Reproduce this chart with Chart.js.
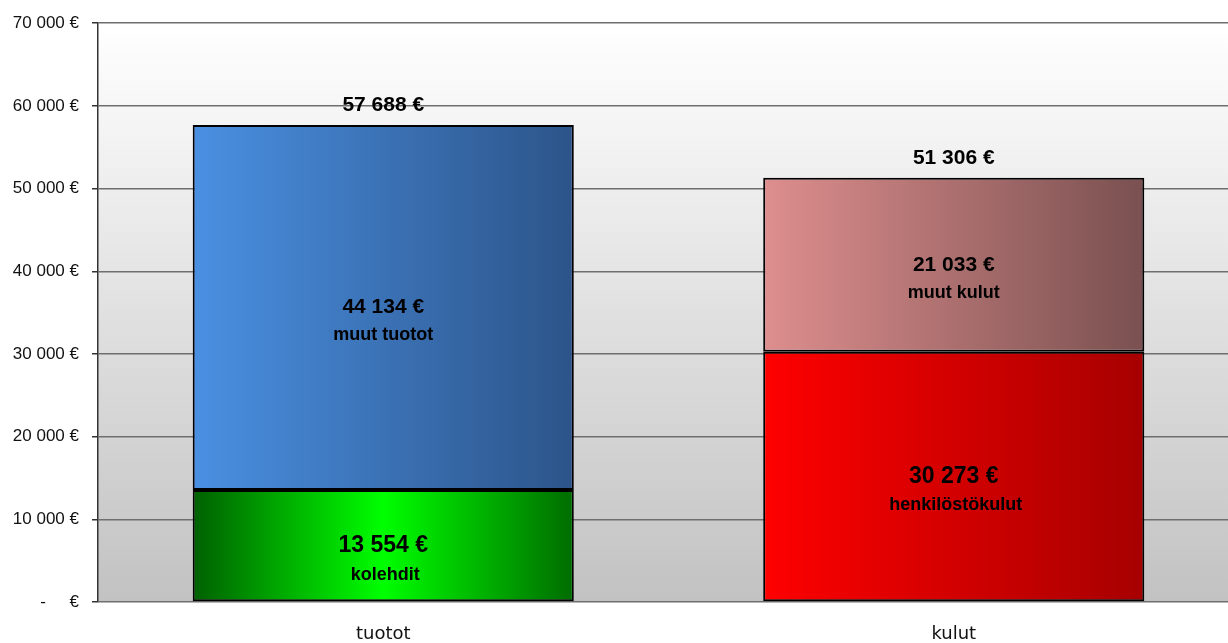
<!DOCTYPE html>
<html>
<head>
<meta charset="utf-8">
<script src="https://cdn.jsdelivr.net/npm/chart.js@4/dist/chart.umd.min.js"></script>
<style>
  html, body { margin: 0; padding: 0; background: #ffffff; overflow: hidden; }
  #wrap { position: relative; width: 1240px; height: 643px; }
</style>
</head>
<body>
<div id="wrap"><canvas id="c"></canvas></div>
<script>
// ---- data ----
const categories = ['tuotot', 'kulut'];
const lowerValues = [13554, 30273];
const upperValues = [44134, 21033];
const lowerNames = ['kolehdit', 'henkilöstökulut'];
const upperNames = ['muut tuotot', 'muut kulut'];
const yTickMax = 70000;
const yTickStep = 10000;

// ---- helpers ----
function fmt(v) {
  return Math.round(v).toString().replace(/\B(?=(\d{3})+(?!\d))/g, ' ') + ' €';
}
const BAR_PCT = 0.668;

function barGradient(ctx, stops) {
  const chart = ctx.chart;
  const area = chart.chartArea;
  if (!area) return stops[0][1];
  const xs = chart.scales.x;
  const cx = xs.getPixelForValue(ctx.dataIndex);
  const w = (area.right - area.left) / categories.length * BAR_PCT;
  const g = chart.ctx.createLinearGradient(cx - w / 2, 0, cx + w / 2, 0);
  stops.forEach(s => g.addColorStop(s[0], s[1]));
  return g;
}
const lowerStops = [
  [[0, '#006000'], [0.5, '#00ff00'], [1, '#006c00']],
  [[0, '#ff0000'], [1, '#a60000']]
];
const upperStops = [
  [[0, '#4a90e2'], [1, '#2c5489']],
  [[0, '#de8e8e'], [1, '#7a5050']]
];

const plotBg = {
  id: 'plotBg',
  beforeDraw(chart) {
    const { ctx, chartArea: a } = chart;
    const g = ctx.createLinearGradient(0, a.top, 0, a.bottom);
    g.addColorStop(0, '#ffffff');
    g.addColorStop(1, '#c2c2c2');
    ctx.save();
    ctx.fillStyle = g;
    ctx.fillRect(a.left, a.top, a.right - a.left, a.bottom - a.top);
    ctx.restore();
  }
};

const labelsPlugin = {
  id: 'segLabels',
  afterDatasetsDraw(chart) {
    const ctx = chart.ctx;
    ctx.save();
    ctx.fillStyle = '#000000';
    ctx.textAlign = 'center';
    ctx.textBaseline = 'middle';
    const m0 = chart.getDatasetMeta(0).data;
    const m1 = chart.getDatasetMeta(1).data;
    categories.forEach((c, i) => {
      const lo = m0[i], up = m1[i];
      const loC = (lo.y + lo.base) / 2;
      ctx.font = 'bold 23px "Liberation Sans", Arial, sans-serif';
      ctx.fillText(fmt(lowerValues[i]), lo.x, loC);
      ctx.font = 'bold 18px "Liberation Sans", Arial, sans-serif';
      ctx.fillText(lowerNames[i], lo.x + 2, loC + 29);
      const upC = (up.y + up.base) / 2;
      ctx.font = 'bold 21px "Liberation Sans", Arial, sans-serif';
      ctx.fillText(fmt(upperValues[i]), up.x, upC);
      ctx.font = 'bold 18px "Liberation Sans", Arial, sans-serif';
      ctx.fillText(upperNames[i], up.x, upC + 28);
      ctx.font = 'bold 21px "Liberation Sans", Arial, sans-serif';
      ctx.fillText(fmt(lowerValues[i] + upperValues[i]), up.x, up.y - 20);
    });
    ctx.restore();
  }
};

new Chart(document.getElementById('c'), {
  type: 'bar',
  data: {
    labels: categories,
    datasets: [
      {
        label: 'lower',
        data: lowerValues,
        backgroundColor: ctx => barGradient(ctx, lowerStops[ctx.dataIndex]),
        borderColor: '#000000',
        borderWidth: 2,
        borderSkipped: false,
        barPercentage: BAR_PCT,
        categoryPercentage: 1
      },
      {
        label: 'upper',
        data: upperValues,
        backgroundColor: ctx => barGradient(ctx, upperStops[ctx.dataIndex]),
        borderColor: '#000000',
        borderWidth: 2,
        borderSkipped: false,
        barPercentage: BAR_PCT,
        categoryPercentage: 1
      }
    ]
  },
  options: {
    responsive: true,
    maintainAspectRatio: false,
    animation: false,
    layout: { padding: { top: 20, right: 1, bottom: 0, left: 0 } },
    plugins: { legend: { display: false }, tooltip: { enabled: false } },
    scales: {
      x: {
        stacked: true,
        grid: { display: false, drawTicks: false },
        border: { display: false },
        ticks: {
          padding: 22,
          color: '#111111',
          font: { family: '"DejaVu Sans", Verdana, sans-serif', size: 18 }
        },
        afterFit(scale) { scale.height = 41; }
      },
      y: {
        stacked: true,
        min: 0,
        max: yTickMax,
        grid: {
          color: '#6e6e6e',
          lineWidth: 1.5,
          tickLength: 6,
          tickColor: '#333333'
        },
        border: { display: true, color: '#333333', width: 1.5 },
        ticks: {
          stepSize: yTickStep,
          padding: 13,
          color: '#111111',
          font: { family: '"Liberation Sans", Arial, sans-serif', size: 17 },
          callback: v => v === 0 ? '-     €' : fmt(v)
        },
        afterFit(scale) { scale.width = 98; }
      }
    }
  },
  plugins: [plotBg, labelsPlugin]
});
</script>
</body>
</html>
